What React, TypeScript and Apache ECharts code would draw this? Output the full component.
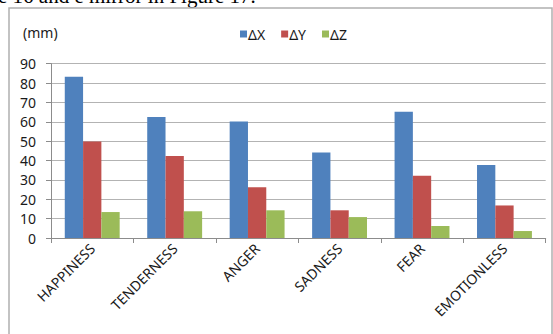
import React, { useEffect, useRef } from "react";
import * as echarts from "echarts";

const categories = ["HAPPINESS", "TENDERNESS", "ANGER", "SADNESS", "FEAR", "EMOTIONLESS"];
const seriesNames = ["ΔX", "ΔY", "ΔZ"];
const deltaX = [83.3, 62.5, 60.2, 44.2, 65.2, 37.7];
const deltaY = [49.8, 42.3, 26.2, 14.3, 32.2, 16.8];
const deltaZ = [13.4, 13.8, 14.3, 10.8, 6.2, 3.6];
const yMin = 0;
const yMax = 90;
const yStep = 10;
const unitLabel = "(mm)";
const captionText = "e 16 and e mirror in Figure 17.";

const colors = ["#4F81BD", "#C0504D", "#9BBB59"];
const FONT = "'Noto Sans', sans-serif";

export default function App() {
  const ref = useRef<HTMLDivElement>(null);
  useEffect(() => {
    if (!ref.current) return;
    const chart = echarts.init(ref.current, undefined, { renderer: "svg" });
    const values = [deltaX, deltaY, deltaZ];
    chart.setOption({
      animation: false,
      backgroundColor: "#ffffff",
      textStyle: { fontFamily: FONT },
      color: colors,
      graphic: [
        {
          type: "text",
          left: -2,
          top: -15,
          style: {
            text: captionText,
            fontFamily: "'Liberation Serif', 'Times New Roman', serif",
            fontSize: 21,
            fill: "#000",
          },
        },
        {
          type: "rect",
          shape: { x: 9, y: 8, width: 543, height: 400 },
          style: { fill: "none", stroke: "#b0b0b0", lineWidth: 1.5 },
          silent: true,
        },
        {
          type: "text",
          left: 23,
          top: 25,
          style: { text: unitLabel, fontFamily: FONT, fontSize: 14, fill: "#1a1a1a" },
        },
      ],
      legend: {
        left: 235,
        top: 22,
        icon: "rect",
        itemWidth: 7,
        itemHeight: 7,
        itemGap: 16,
        textStyle: { fontFamily: FONT, fontSize: 14, color: "#1a1a1a", padding: [0, 0, 0, -4] },
        data: seriesNames,
      },
      grid: { left: 51, right: 7.3, top: 63.7, bottom: 96, containLabel: false },
      xAxis: {
        type: "category",
        data: categories,
        axisLine: { show: true, lineStyle: { color: "#8c8c8c", width: 1 } },
        axisTick: { show: true, length: 5, lineStyle: { color: "#8c8c8c" } },
        axisLabel: {
          rotate: 45,
          interval: 0,
          margin: 8,
          fontFamily: FONT,
          fontSize: 14,
          color: "#1a1a1a",
        },
      },
      yAxis: {
        type: "value",
        min: yMin,
        max: yMax,
        interval: yStep,
        axisLine: { show: true, lineStyle: { color: "#8c8c8c", width: 1 } },
        axisTick: { show: true, length: 5, lineStyle: { color: "#8c8c8c" } },
        axisLabel: { margin: 15, fontFamily: FONT, fontSize: 14, color: "#1a1a1a" },
        splitLine: { show: true, lineStyle: { color: "#b3b3b3", width: 1 } },
      },
      series: seriesNames.map((name, i) => ({
        name,
        type: "bar",
        data: values[i],
        barWidth: 18.3,
        barGap: "0%",
        itemStyle: { color: colors[i] },
      })),
    });
    return () => chart.dispose();
  }, []);
  return (
    <div
      ref={ref}
      style={{ position: "absolute", left: 0, top: 0, width: 553, height: 334, background: "#fff" }}
    />
  );
}
